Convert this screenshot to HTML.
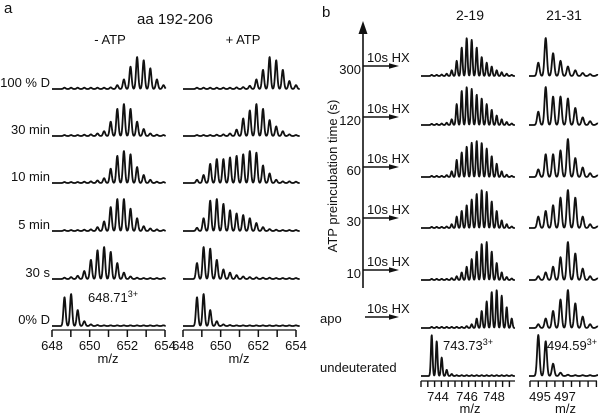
<!DOCTYPE html>
<html><head><meta charset="utf-8">
<style>
html,body{margin:0;padding:0;background:#fff;}
svg{display:block;font-family:"Liberation Sans",Arial,sans-serif;}
text{fill:#111;}
</style></head>
<body>
<svg id="fig" width="600" height="415" viewBox="0 0 600 415">
  <text x="4" y="13" font-size="15">a</text>
  <text x="175" y="24" font-size="15" text-anchor="middle">aa 192-206</text>
  <text x="110" y="44" font-size="13" text-anchor="middle">- ATP</text>
  <text x="243" y="44" font-size="13" text-anchor="middle">+ ATP</text>
  <text x="88" y="302" font-size="13">648.71<tspan dy="-5" font-size="9">3+</tspan></text>
  <text x="322" y="17" font-size="15">b</text>
  <text x="470" y="20" font-size="14" text-anchor="middle">2-19</text>
  <text x="564" y="20" font-size="14" text-anchor="middle">21-31</text>
  <text transform="translate(337,176) rotate(-90)" font-size="13" text-anchor="middle">ATP preincubation time (s)</text>
  <line x1="363" y1="32" x2="363" y2="288" stroke="#111" stroke-width="1.6"/>
  <polygon points="363,21 358.5,34 367.5,34" fill="#111"/>
  <text x="443" y="350" font-size="13">743.73<tspan dy="-5" font-size="9">3+</tspan></text>
  <text x="547" y="350" font-size="13">494.59<tspan dy="-5" font-size="9">3+</tspan></text>
  <text x="320" y="323" font-size="13">apo</text>
  <text x="320" y="372" font-size="13">undeuterated</text>
  <g id="g"></g>
</svg>
<script>
// ---- data: isotope peak heights (relative) ----
const rowLabelsA = ["100 % D", "30 min", "10 min", "5 min", "30 s", "0% D"];
const minusATP = [
  [.04,.04,.04,.04,.04,.04,.04,.05,.12,.3,.7,1,.9,.65,.3,.12],
  [.03,.03,.03,.04,.05,.08,.15,.45,.85,1,.85,.45,.22,.08,.04,.03],
  [.03,.03,.03,.04,.05,.08,.15,.45,.85,1,.9,.5,.25,.1,.04,.03],
  [.03,.03,.03,.04,.05,.12,.3,.75,1,1,.7,.4,.15,.08,.05,.03],
  [.04,.06,.1,.25,.6,.9,1,.85,.5,.2,.08,.04,.03,.03,.03,.03],
  [.9,1,.5,.15,.05,.03,.02,.02,.02,.02,.02,.02,.02,.02,.02,.02]
];
const plusATP = [
  [.04,.04,.04,.04,.04,.04,.05,.06,.1,.3,.6,1,.9,.6,.25,.12],
  [.03,.03,.03,.04,.05,.08,.2,.55,.8,1,.85,.5,.3,.15,.05,.03],
  [.1,.25,.6,.75,.75,.8,.85,.9,1,.95,.55,.3,.1,.05,.05,.04],
  [.1,.4,.95,1,.85,.65,.55,.5,.4,.25,.12,.06,.04,.03,.03,.03],
  [.5,1,.95,.6,.3,.2,.12,.08,.06,.05,.04,.04,.03,.03,.03,.03],
  [.9,1,.5,.15,.05,.03,.02,.02,.02,.02,.02,.02,.02,.02,.02,.02]
];
const ticksA = ["648","650","652","654"];
const rowLabelsB = ["300","120","60","30","10","apo","undeuterated"];
const pep219 = [
  [.03,.03,.04,.06,.15,.4,.75,1,.95,.75,.5,.35,.25,.15,.1,.06,.03],
  [.03,.03,.04,.06,.15,.55,.9,1,.95,.8,.7,.55,.4,.25,.15,.08,.04],
  [.03,.03,.03,.05,.15,.45,.65,.8,.9,.95,.9,.75,.55,.35,.15,.06,.03],
  [.03,.03,.03,.04,.1,.3,.45,.6,.75,.9,1,.95,.7,.45,.2,.1,.04],
  [.03,.03,.03,.03,.05,.1,.2,.35,.55,.75,.95,1,.75,.45,.2,.08,.04],
  [.03,.03,.03,.03,.03,.03,.03,.05,.1,.25,.45,.7,.95,1,.85,.55,.25],
  [1,.85,.45,.15,.05,.02,.02,.02,.02,.02,.02,.02,.02,.02,.02,.02,.02]
];
const pep2131 = [
  [.35,1,.6,.4,.25,.15,.08,.05,.03],
  [.35,1,.75,.75,.7,.45,.2,.1,.04],
  [.2,.6,.6,.7,1,.5,.25,.1,.04],
  [.3,.45,.6,.8,1,.8,.3,.1,.04],
  [.1,.2,.35,.6,1,.7,.3,.1,.04],
  [.1,.25,.45,.75,1,.65,.3,.1,.04],
  [1,.85,.3,.08,.03,.02,.02,.02,.02]
];
const ticksB1 = ["744","746","748"];
const ticksB2 = ["495","497"];

const NS = "http://www.w3.org/2000/svg";
const G = document.getElementById("g");
function mk(tag, attrs){const e=document.createElementNS(NS,tag);for(const k in attrs)e.setAttribute(k,attrs[k]);G.appendChild(e);return e;}

function peakX(col, i){ return col.x0 + i*col.dx; }
function drawSpectrum(col, heights, base, H, name){
  const s = col.dx*0.16;
  let d = "";
  for(let x=col.xl; x<=col.xr; x+=0.3){
    let v=0;
    for(let i=0;i<heights.length;i++){const px=peakX(col,i);const u=(x-px)/s;if(Math.abs(u)<6)v+=heights[i]*Math.exp(-u*u/2);}
    d += (d?"L":"M")+x.toFixed(1)+","+(base - H*v).toFixed(1);
  }
  const p = mk("path",{d:d,fill:"none",stroke:"#111","stroke-width":"1.8","stroke-linejoin":"round"});
  
  
}

// panel a
const colAL = {x0:64.5, dx:6.6, xl:52, xr:166};
const colAR = {x0:197, dx:6.6, xl:183, xr:300};
const basesA = [89,136,183,231,279,326];
for(let r=0;r<6;r++){
  drawSpectrum(colAL, minusATP[r], basesA[r], 32, 'spectrum-minus-atp-'+r);
  drawSpectrum(colAR, plusATP[r], basesA[r], 32, 'spectrum-plus-atp-'+r);
  const t = mk("text",{x:50,y:basesA[r]-2,"font-size":"13","text-anchor":"end"});
  t.textContent = rowLabelsA[r];
  
  
}
function axisA(x0, name){
  const pxPer = 113/6;
  mk("line",{x1:x0,y1:330,x2:x0+113,y2:330,stroke:"#111","stroke-width":"1.3"});
  for(let k=0;k<=6;k++){
    const x=x0+k*pxPer;
    const l=mk("line",{x1:x,y1:330,x2:x,y2:337,stroke:"#111","stroke-width":"1.5"});
    
    
  }
  for(let k=0;k<ticksA.length;k++){
    const t=mk("text",{x:x0+k*2*pxPer,y:350,"font-size":"13","text-anchor":"middle"});
    t.textContent=ticksA[k];
    
    
  }
  const m=mk("text",{x:x0+56,y:363,"font-size":"13","text-anchor":"middle"});
  m.textContent="m/z";
  
  
}
axisA(52,'x-axis-minus-atp');
axisA(183,'x-axis-plus-atp');

// panel b
const colB1 = {x0:431.7, dx:5, xl:421, xr:515};
const colB2 = {x0:538.3, dx:7.4, xl:529, xr:598};
const basesB = [76,125,177,228,280,328,376];
for(let r=0;r<7;r++){
  drawSpectrum(colB1, pep219[r], basesB[r], r==6?41:38, 'spectrum-2-19-'+r);
  drawSpectrum(colB2, pep2131[r], basesB[r], r==6?41:38, 'spectrum-21-31-'+r);
}
const arrowY = [66,117,167,218,270,317];
for(let r=0;r<6;r++){
  const xs = r<5?363:365;
  const l=mk("line",{x1:xs,y1:arrowY[r],x2:392,y2:arrowY[r],stroke:"#111","stroke-width":"1.6"});
  
  
  const h=mk("polygon",{points:`399,${arrowY[r]} 389,${arrowY[r]-2.8} 389,${arrowY[r]+2.8}`,fill:"#111"});
  
  
  const t=mk("text",{x:367,y:arrowY[r]-4,"font-size":"13"});
  t.textContent="10s HX";
  
  
  if(r<5){
    const v=mk("text",{x:361,y:arrowY[r]+8,"font-size":"13","text-anchor":"end"});
    v.textContent=rowLabelsB[r];
    
    
  }
}
function axisB(xl, xr, step, labels, labelX, name){
  mk("line",{x1:xl,y1:381,x2:xr,y2:381,stroke:"#111","stroke-width":"1.3"});
  for(let x=xl;x<=xr+0.1;x+=step){
    const l=mk("line",{x1:x,y1:381,x2:x,y2:387,stroke:"#111","stroke-width":"1.4"});
    
    
  }
  for(let k=0;k<labels.length;k++){
    const t=mk("text",{x:labelX[k],y:401,"font-size":"13","text-anchor":"middle"});
    t.textContent=labels[k];
    
    
  }
  const m=mk("text",{x:(xl+xr)/2+2,y:413,"font-size":"13","text-anchor":"middle"});
  m.textContent="m/z";
  
  
}
axisB(421, 515, 6.8, ticksB1, [438,467,494], 'x-axis-2-19');
axisB(530, 597, 8.3, ticksB2, [540,565], 'x-axis-21-31');
</script>
</body></html>
